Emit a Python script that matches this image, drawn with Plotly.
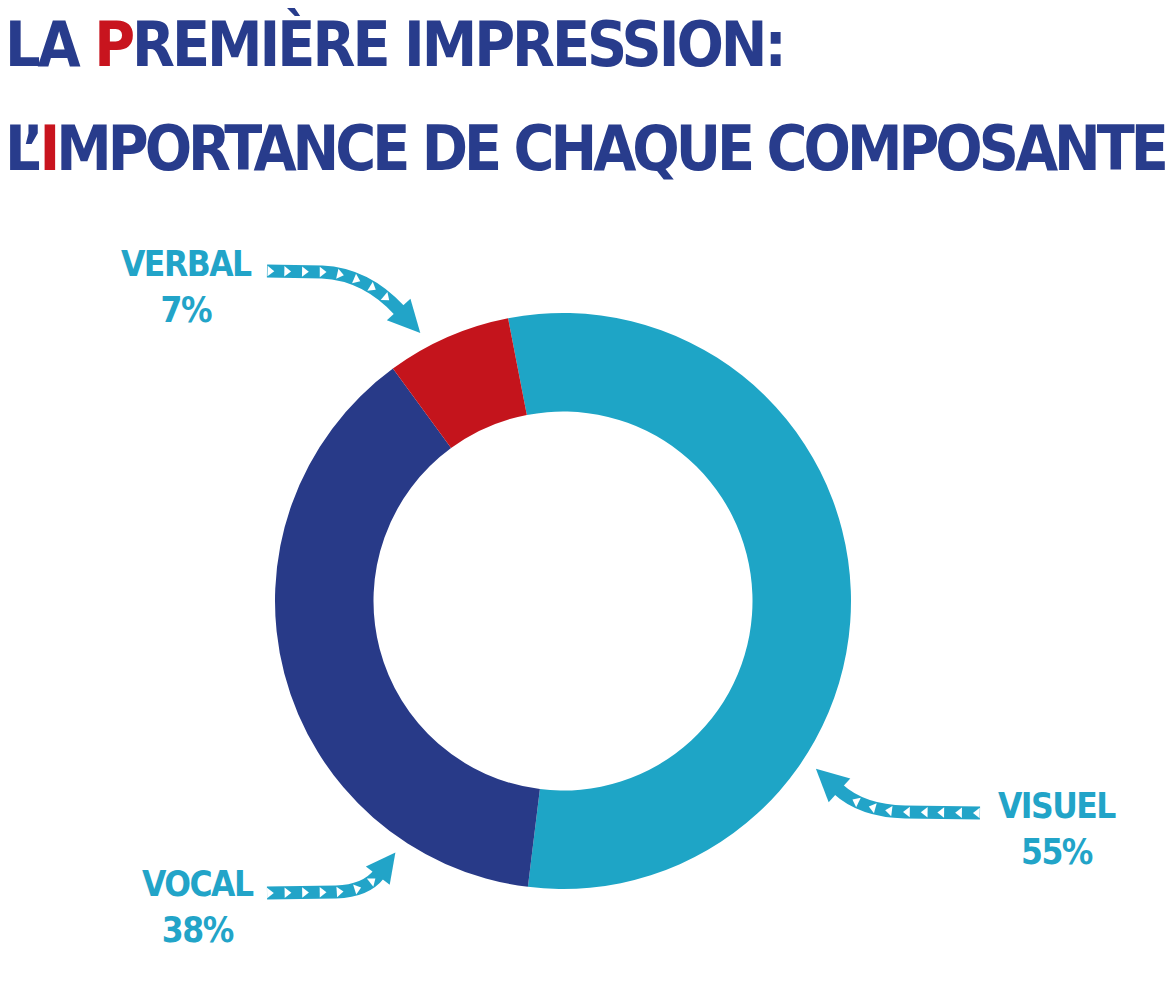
import numpy as np
import plotly.graph_objects as go

# ---- data ----
labels = ["Visuel", "Vocal", "Verbal"]
values = [55, 38, 7]
colors = ["#1EA5C6", "#283A88", "#C4141C"]
title_line1 = ["LA ", "P", "REMIÈRE IMPRESSION:"]
title_line2 = ["L’", "I", "MPORTANCE DE CHAQUE COMPOSANTE"]

W, H = 1176, 1000
TITLE_BLUE = "#283C8C"
TITLE_RED = "#C8141E"
LABEL_BLUE = "#22A4C8"
FONT = "DejaVu Sans Condensed, Liberation Sans Narrow, Arial Narrow, sans-serif"

fig = go.Figure()

# donut
fig.add_trace(go.Pie(
    labels=labels, values=values, sort=False, direction="clockwise",
    rotation=-11, hole=0.658, textinfo="none", hoverinfo="label+percent",
    marker=dict(colors=colors, line=dict(width=0)), showlegend=False,
    domain=dict(x=[275 / W, 851 / W], y=[1 - 889 / H, 1 - 313 / H]),
))

# ---- decorative arrows (pixel space on hidden axes) ----
arrow_geom = {
    "Verbal": dict(p0=(267, 271), p1=(322, 272), c=(366, 274), p2=(400, 311), head=30, hw=16),
    "Visuel": dict(p0=(980, 813), p1=(905, 812), c=(862, 811), p2=(838, 789), head=30, hw=16),
    "Vocal": dict(p0=(267, 893), p1=(336, 892), c=(366, 891), p2=(379, 874), head=27, hw=15),
}

shapes = []
tri_x, tri_y, tri_a = [], [], []
for name, g in arrow_geom.items():
    p0, p1, c, p2 = [np.array(v, float) for v in (g["p0"], g["p1"], g["c"], g["p2"])]
    path = f"M {p0[0]},{p0[1]} L {p1[0]},{p1[1]} Q {c[0]},{c[1]} {p2[0]},{p2[1]}"
    shapes.append(dict(type="path", path=path, xref="x", yref="y",
                       line=dict(color=LABEL_BLUE, width=13), layer="below"))
    d = p2 - c
    d = d / np.linalg.norm(d)
    n = np.array([-d[1], d[0]])
    tip = p2 + d * g["head"]
    a = p2 + n * g["hw"] - d * 2
    b = p2 - n * g["hw"] - d * 2
    shapes.append(dict(type="path", xref="x", yref="y", layer="below",
                       path=f"M {a[0]},{a[1]} L {tip[0]},{tip[1]} L {b[0]},{b[1]} Z",
                       fillcolor=LABEL_BLUE, line=dict(width=0)))
    # sample polyline for the small white triangles
    pts = [p0 + (p1 - p0) * t for t in np.linspace(0, 1, 60)]
    pts += [(1 - t) ** 2 * p1 + 2 * (1 - t) * t * c + t ** 2 * p2 for t in np.linspace(0, 1, 60)]
    pts = np.array(pts)
    seg = np.linalg.norm(np.diff(pts, axis=0), axis=1)
    cum = np.concatenate([[0], np.cumsum(seg)])
    total = cum[-1]
    for s in np.arange(2, total - 6, 17.5):
        i = min(np.searchsorted(cum, s), len(pts) - 2)
        pt = pts[i]
        dv = pts[i + 1] - pts[i]
        tri_x.append(pt[0]); tri_y.append(pt[1])
        tri_a.append(np.degrees(np.arctan2(dv[1], dv[0])))

fig.add_trace(go.Scatter(
    x=tri_x, y=tri_y, mode="markers", hoverinfo="skip", showlegend=False,
    marker=dict(symbol="triangle-right", size=9, color="white", angle=tri_a,
                line=dict(width=0)),
))

# ---- labels ----
label_pos = {
    "Verbal": (186, 287),
    "Visuel": (1057, 829),
    "Vocal": (198, 907),
}
annotations = []
LS = "letter-spacing:-1.5px"
for lab, val in zip(labels, values):
    x, y = label_pos[lab]
    annotations.append(dict(
        text=f"<span style='{LS}'>{lab.upper()}</span><br><span style='{LS}'>{val}%</span>",
        x=x, y=y, xref="x", yref="y", showarrow=False,
        xanchor="center", yanchor="middle", align="center",
        font=dict(family=FONT, size=35, color=LABEL_BLUE, weight=700)))


def title_html(parts, ls):
    st = f"letter-spacing:{ls}px"
    return (f"<span style='{st}'>{parts[0]}</span>"
            f"<span style='{st};color:{TITLE_RED}'>{parts[1]}</span>"
            f"<span style='{st}'>{parts[2]}</span>")


annotations.append(dict(text=title_html(title_line1, -3), x=3, y=44, xref="x", yref="y",
                        showarrow=False, xanchor="left", yanchor="middle",
                        font=dict(family=FONT, size=62, color=TITLE_BLUE, weight=700)))
annotations.append(dict(text=title_html(title_line2, -4), x=3, y=148, xref="x", yref="y",
                        showarrow=False, xanchor="left", yanchor="middle",
                        font=dict(family=FONT, size=62, color=TITLE_BLUE, weight=700)))

fig.update_layout(
    width=W, height=H, margin=dict(l=0, r=0, t=0, b=0),
    paper_bgcolor="white", plot_bgcolor="rgba(0,0,0,0)",
    xaxis=dict(range=[0, W], visible=False, domain=[0, 1], fixedrange=True),
    yaxis=dict(range=[H, 0], visible=False, domain=[0, 1], fixedrange=True),
    shapes=shapes, annotations=annotations,
)

fig.write_html("out.html")
